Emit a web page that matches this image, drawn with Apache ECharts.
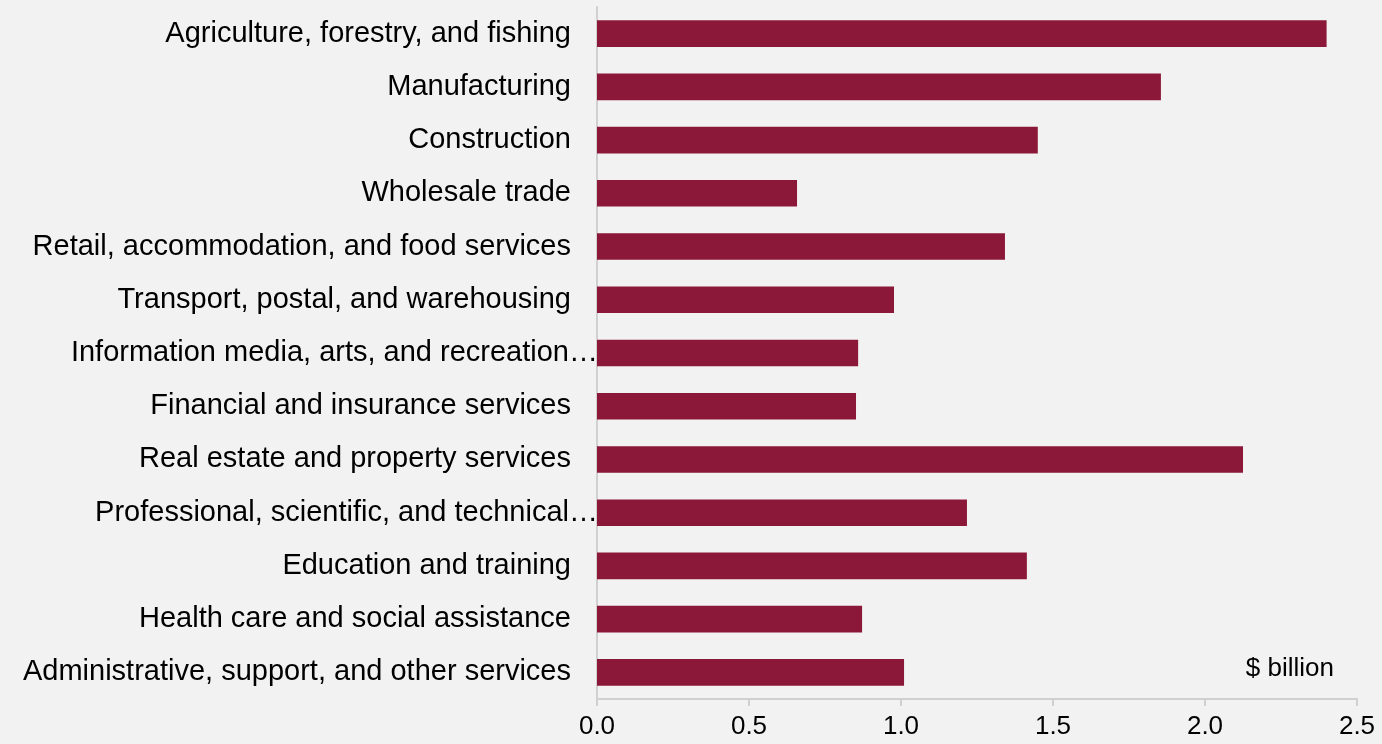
<!DOCTYPE html>
<html>
<head>
<meta charset="utf-8">
<script src="https://cdn.jsdelivr.net/npm/echarts@6/dist/echarts.min.js"></script>
<style>
html,body{margin:0;padding:0;background:#f2f2f2;}
#c{width:1382px;height:744px;}
</style>
</head>
<body>
<div id="c"></div>
<script>
const categories = [
  "Agriculture, forestry, and fishing",
  "Manufacturing",
  "Construction",
  "Wholesale trade",
  "Retail, accommodation, and food services",
  "Transport, postal, and warehousing",
  "Information media, arts, and recreation…",
  "Financial and insurance services",
  "Real estate and property services",
  "Professional, scientific, and technical…",
  "Education and training",
  "Health care and social assistance",
  "Administrative, support, and other services"
];
const values = [2.40, 1.855, 1.45, 0.658, 1.342, 0.977, 0.859, 0.852, 2.125, 1.217, 1.414, 0.872, 1.01];
const unitLabel = "$ billion";

const catData = categories.map(c => c.endsWith('…')
  ? {value: c, textStyle: {padding: [0, -27, 0, 0]}}
  : c);

const chart = echarts.init(document.getElementById('c'), null, {renderer: 'canvas'});
chart.setOption({
  backgroundColor: '#f2f2f2',
  animation: false,
  grid: {left: 597, right: 25, top: 7, bottom: 45, containLabel: false},
  xAxis: {
    type: 'value', min: 0, max: 2.5, interval: 0.5,
    axisLine: {show: true, lineStyle: {color: '#d0d0d0', width: 2}},
    axisTick: {show: true, length: 7, lineStyle: {color: '#d0d0d0', width: 2}},
    splitLine: {show: false},
    axisLabel: {color: '#000', fontFamily: 'Liberation Sans, Arial, sans-serif', fontSize: 26, margin: 15,
      formatter: v => v.toFixed(1)}
  },
  yAxis: {
    type: 'category', data: catData, inverse: true, z: 1,
    axisLine: {show: true, lineStyle: {color: '#d0d0d0', width: 2}},
    axisTick: {show: false},
    axisLabel: {color: '#000', fontFamily: 'Liberation Sans, Arial, sans-serif', fontSize: 29, margin: 26}
  },
  graphic: [{
    type: 'text', right: 48, top: 656,
    style: {text: unitLabel, fill: '#000', font: '26px "Liberation Sans", Arial, sans-serif'}
  }],
  series: [{
    type: 'bar', data: values, barCategoryGap: '50%', z: 2,
    itemStyle: {color: '#8b1838'}
  }]
});
</script>
</body>
</html>
